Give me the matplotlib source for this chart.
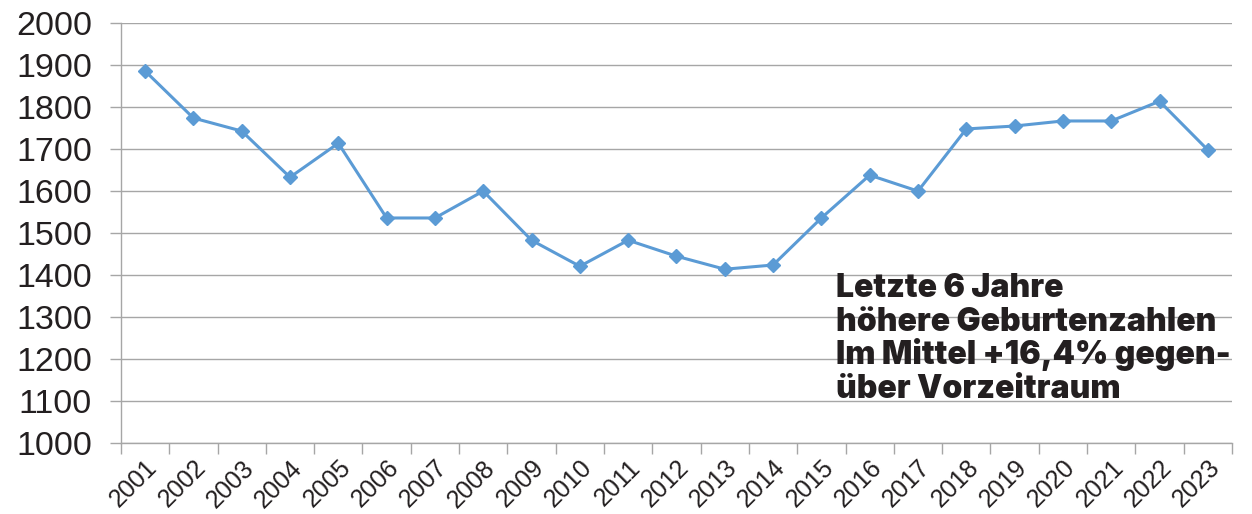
import matplotlib
matplotlib.use("Agg")
import matplotlib.pyplot as plt
import numpy as np

years = [str(y) for y in range(2001, 2024)]
births = [1886, 1774, 1743, 1633, 1714, 1536, 1536, 1600, 1483, 1421, 1483, 1445,
          1414, 1424, 1536, 1638, 1600, 1748, 1755, 1767, 1767, 1814, 1698]
y_ticks = list(range(1000, 2001, 100))
note_lines = ["Letzte 6 Jahre", "höhere Geburtenzahlen",
              "Im Mittel +16,4% gegen-", "über Vorzeitraum"]

plt.rcParams['font.family'] = ['Liberation Sans', 'DejaVu Sans']

fig = plt.figure(figsize=(12.52, 5.14), dpi=100)
ax = fig.add_axes([0.0966, 0.138, 0.8874, 0.817])

x = np.arange(len(years))
ax.plot(x, births, color='#5b9bd5', linewidth=2.2, marker='D', markersize=7,
        markeredgecolor='#5b9bd5', markerfacecolor='#5b9bd5', zorder=3)

ax.set_xlim(-0.5, len(years) - 0.5)
ax.set_ylim(1000, 2000)
ax.set_yticks(y_ticks)
ax.set_yticklabels([str(v) for v in y_ticks], fontsize=24.5, color='#231f20')
ax.set_xticks(x)
ax.set_xticklabels(years, rotation=45, ha='right', va='top', rotation_mode='anchor',
                   fontsize=18, color='#231f20')
ax.set_xticks(np.arange(-0.5, len(years), 1.0), minor=True)
ax.tick_params(axis='x', which='major', length=0, pad=9)
ax.tick_params(axis='x', which='minor', length=8, color='#a6a6a6', width=1)
ax.tick_params(axis='y', length=8, color='#a6a6a6', width=1, pad=13)

ax.grid(axis='y', color='#a6a6a6', linewidth=1)
ax.set_axisbelow(True)
for s in ['top', 'right']:
    ax.spines[s].set_visible(False)
for s in ['left', 'bottom']:
    ax.spines[s].set_color('#a6a6a6')
    ax.spines[s].set_linewidth(1)

baselines_px = [297, 330.5, 364, 397.5]
for line, bpx in zip(note_lines, baselines_px):
    ax.text(0.6436, (443 - bpx) / 420, line, transform=ax.transAxes,
            ha='left', va='baseline', fontsize=23, fontweight='black',
            family=['Inter', 'Liberation Sans'], color='#231f20')

fig.savefig('out.png', dpi=100)
